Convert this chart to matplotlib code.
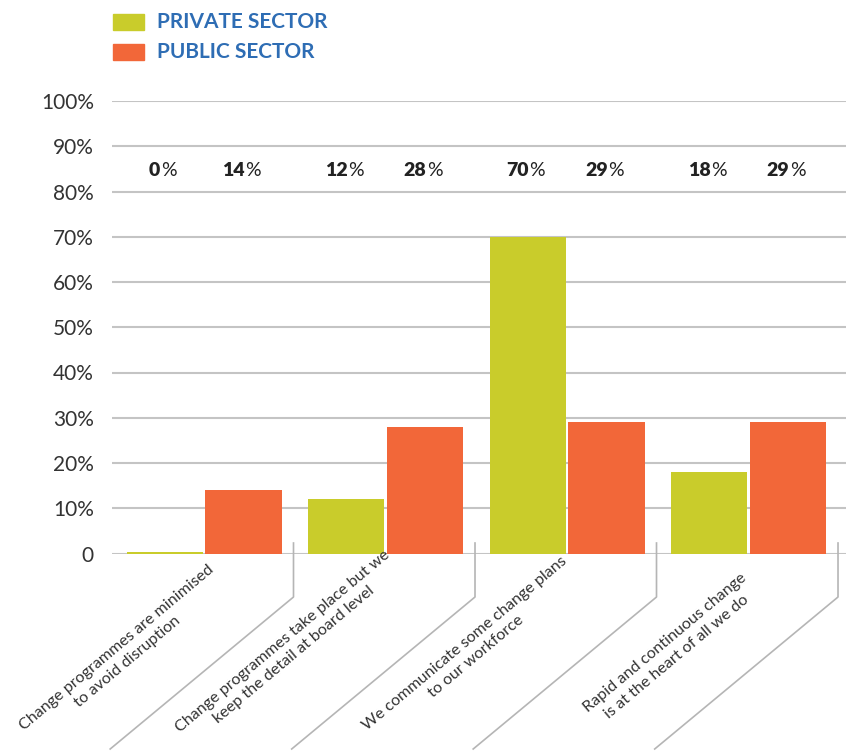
import numpy as np
import matplotlib.pyplot as plt
from matplotlib.patches import Rectangle
from matplotlib.lines import Line2D
import matplotlib.transforms as mtransforms

# survey answers, share of respondents (%)
categories = [
    "Change programmes are minimised\nto avoid disruption",
    "Change programmes take place but we\nkeep the detail at board level",
    "We communicate some change plans\nto our workforce",
    "Rapid and continuous change\nis at the heart of all we do",
]
private_sector = [0.4, 12, 70, 18]
public_sector = [14, 28, 29, 29]
series_names = ["PRIVATE SECTOR", "PUBLIC SECTOR"]
yticks = list(range(0, 101, 10))
ytick_labels = ["0"] + [f"{t}%" for t in yticks[1:]]

green = "#c9cc2b"
orange = "#f26739"
blue = "#2e6db4"
grid_col = "#c4c4c4"
text_col = "#333333"

plt.rcParams['font.family'] = ['Lato', 'DejaVu Sans']

fig = plt.figure(figsize=(8.46, 7.51), dpi=100)
ax = fig.add_axes([112 / 846, 197.5 / 751, 734 / 846, 452.5 / 751])

x = np.arange(len(categories))
w = 0.42
ax.bar(x - 0.21, private_sector, w, color=green, zorder=3)
ax.bar(x + 0.225, public_sector, w, color=orange, zorder=3)

ax.set_xlim(-0.5, 3.544)
ax.set_ylim(0, 100)
ax.set_yticks(yticks)
ax.set_yticklabels(ytick_labels, fontsize=15, color=text_col)
ax.tick_params(axis='y', length=0, pad=13)
ax.set_xticks([])
ax.yaxis.grid(True, color=grid_col, linewidth=1.5, zorder=0)
for s in ax.spines.values():
    s.set_visible(False)

# value labels above the bars: bold number, plain percent sign
fig.canvas.draw()
for xs, vals in [(x - 0.21, private_sector), (x + 0.225, public_sector)]:
    for xi, v in zip(xs, vals):
        t = ax.text(xi, 84.7, f"{v:.0f}", ha='center', va='center',
                    fontsize=14, fontweight='heavy', color='#222222')
        t.set_transform(ax.transData + mtransforms.ScaledTranslation(-10 / 100, 0, fig.dpi_scale_trans))
        ax.annotate("%", xy=(1, 0), xycoords=t, xytext=(0.5, 0), textcoords='offset points',
                    ha='left', va='bottom', fontsize=14, fontweight='normal', color='#222222')

# separators between categories and slanted guides under the axis
tr = mtransforms.blended_transform_factory(ax.transData, fig.transFigure)
label_dx = [-0.445, -0.53, -0.525, -0.42]   # label centre, relative to group centre
label_y = [655, 648, 650, 650]              # label centre, pixels from top
for i in range(len(categories)):
    sep = i + 0.5
    y_top = (751 - 543) / 751
    y_mid = (751 - 597) / 751
    y_bot = (751 - 749) / 751
    ax.add_line(Line2D([sep, sep, sep - 1.01], [y_top, y_mid, y_bot], transform=tr,
                       color="#b5b5b5", linewidth=1.2, clip_on=False))
    ax.text(i + label_dx[i], (751 - label_y[i]) / 751, categories[i], transform=tr,
            rotation=40, rotation_mode='anchor', ha='center', va='center',
            fontsize=11.6, color=text_col, linespacing=1.35, multialignment='center')

# legend
for j, (name, col) in enumerate(zip(series_names, [green, orange])):
    y0 = 751 - 30 - j * 30
    fig.add_artist(Rectangle((113 / 846, y0 / 751), 31 / 846, 16 / 751,
                             transform=fig.transFigure, color=col))
    fig.text(157 / 846, (y0 + 8) / 751, name, ha='left', va='center',
             fontsize=15, fontweight='bold', color=blue)

fig.savefig("out.png", dpi=100)
